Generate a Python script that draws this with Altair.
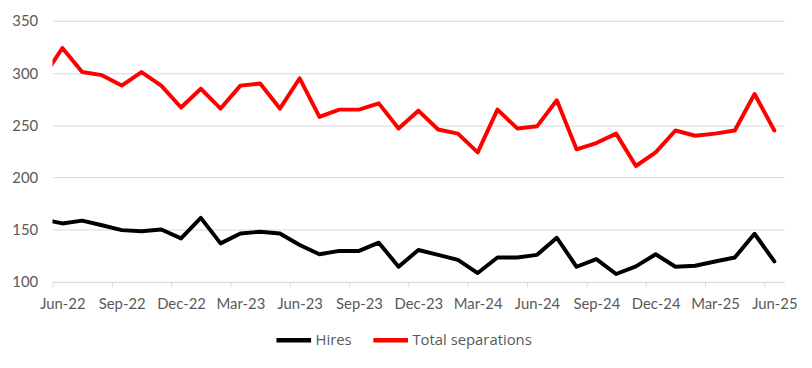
import json
import altair as alt
import pandas as pd

months = ["May-22", "Jun-22", "Jul-22", "Aug-22", "Sep-22", "Oct-22", "Nov-22", "Dec-22",
          "Jan-23", "Feb-23", "Mar-23", "Apr-23", "May-23", "Jun-23", "Jul-23", "Aug-23",
          "Sep-23", "Oct-23", "Nov-23", "Dec-23", "Jan-24", "Feb-24", "Mar-24", "Apr-24",
          "May-24", "Jun-24", "Jul-24", "Aug-24", "Sep-24", "Oct-24", "Nov-24", "Dec-24",
          "Jan-25", "Feb-25", "Mar-25", "Apr-25", "May-25", "Jun-25"]

hires = [160, 156, 158.7, 154.3, 149.6, 148.6, 150.2, 141.7, 161.3, 136.9, 146.4, 148,
         146.4, 135.3, 126.5, 129.7, 129.7, 137.6, 114.5, 130.6, 125.9, 121.1, 108.5,
         123.4, 123.4, 125.9, 142.3, 114.5, 121.8, 107.6, 114.9, 126.5, 114.5, 115.5,
         119.6, 123.4, 146.1, 119.6]

separations = [295, 324, 301, 298, 288, 301, 288, 267, 285, 266, 288, 290, 266, 295, 258,
               265, 265, 271, 247, 264, 246, 242, 224, 265, 247, 249, 274, 227, 233, 242,
               211, 224, 245, 240, 242, 245, 280, 245]

series_names = ["Hires", "Total separations"]
series_colors = ["#000000", "#ff0000"]
y_ticks = [100, 150, 200, 250, 300, 350]
x_tick_idx = list(range(0, 37, 3))

rows = []
for i, m in enumerate(months):
    rows.append({"idx": i - 1, "month": m, "series": series_names[0], "value": hires[i]})
    rows.append({"idx": i - 1, "month": m, "series": series_names[1], "value": separations[i]})
df = pd.DataFrame(rows)

label_expr = json.dumps(months) + "[datum.value + 1]"
FONT = "Lato"
GRAY = "#595959"

chart = alt.Chart(df).mark_line(strokeWidth=4, clip=True, strokeJoin="round", strokeCap="round").encode(
    x=alt.X("idx:Q",
            scale=alt.Scale(domain=[-0.5, 36.5], nice=False, zero=False),
            axis=alt.Axis(values=x_tick_idx, labelExpr=label_expr, title=None, grid=False,
                          tickOffset=-10, labelOffset=10, tickSize=5, tickColor="#d9d9d9",
                          domainColor="#d9d9d9", labelPadding=10, labelFontSize=15,
                          labelColor=GRAY, labelFont=FONT, labelFlush=False,
                          labelOverlap=False)),
    y=alt.Y("value:Q",
            scale=alt.Scale(domain=[100, 350], nice=False, zero=False),
            axis=alt.Axis(values=y_ticks, title=None, domain=False, ticks=False,
                          labelPadding=15, gridColor="#d9d9d9", labelFontSize=15,
                          labelColor=GRAY, labelFont=FONT)),
    color=alt.Color("series:N",
                    scale=alt.Scale(domain=series_names, range=series_colors),
                    legend=alt.Legend(title=None, orient="none", legendX=224, legendY=303,
                                      direction="horizontal", symbolType="stroke",
                                      symbolSize=1225, symbolStrokeWidth=4.5,
                                      labelFontSize=15, labelColor=GRAY, labelFont="Open Sans",
                                      columnPadding=12, labelOffset=2)),
).properties(
    width=740, height=264,
    padding={"left": 45, "top": 11, "right": 20, "bottom": 80},
    autosize=alt.AutoSizeParams(type="none"),
).configure_view(stroke=None)

chart.save("out.html", embed_options={"renderer": "svg", "actions": False})
